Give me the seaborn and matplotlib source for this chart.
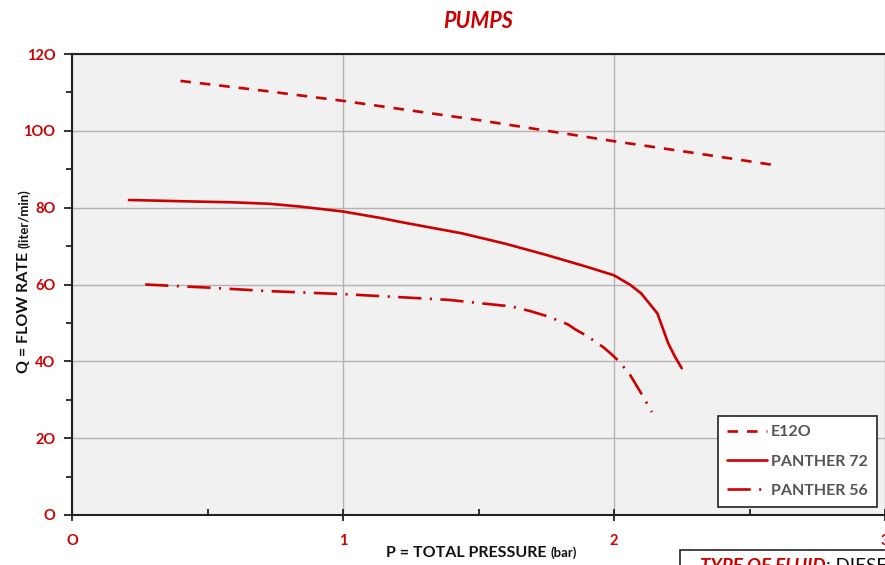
import matplotlib
matplotlib.use("Agg")
import matplotlib.pyplot as plt
import seaborn as sns
import pandas as pd
from matplotlib.patches import Rectangle

# ---- data ----
e120_p = [0.40, 0.70, 1.00, 1.40, 1.50, 2.00, 2.30, 2.59]
e120_q = [113.0, 110.5, 107.8, 103.8, 102.8, 97.3, 94.2, 91.1]

p72_p = [0.21, 0.45, 0.59, 0.73, 0.84, 1.00, 1.14, 1.21, 1.44, 1.60, 1.75, 1.90, 2.00,
         2.06, 2.10, 2.13, 2.16, 2.18, 2.20, 2.225, 2.25]
p72_q = [82.0, 81.6, 81.4, 81.0, 80.3, 79.0, 77.3, 76.3, 73.3, 70.6, 67.7, 64.6, 62.4,
         59.9, 57.7, 55.1, 52.5, 48.6, 44.7, 41.2, 38.2]

p56_p = [0.27, 0.50, 0.72, 1.00, 1.21, 1.39, 1.51, 1.62, 1.69, 1.76, 1.83, 1.86, 1.90,
         1.96, 1.99, 2.02, 2.06, 2.10, 2.14]
p56_q = [60.0, 59.2, 58.3, 57.5, 56.7, 56.0, 55.1, 54.3, 53.1, 51.6, 49.6, 48.2, 46.6,
         43.7, 41.9, 39.9, 36.4, 31.7, 26.8]

series_names = ["E12O", "PANTHER 72", "PANTHER 56"]
x_ticks = [0, 1, 2, 3]
x_ticklabels = ["O", "1", "2", "3"]
y_ticks = [0, 20, 40, 60, 80, 100, 120]
y_ticklabels = ["O", "2O", "4O", "6O", "8O", "1OO", "12O"]

RED = "#cc0000"
FONT = ["Lato", "DejaVu Sans"]

sns.set_theme(style="white")
plt.rcParams["font.family"] = FONT

fig = plt.figure(figsize=(8.85, 5.65), dpi=100)
ax = fig.add_axes([72 / 885, 1 - 515 / 565, 813 / 885, 461 / 565])
ax.set_facecolor("#f1f1f1")

styles = [(0, (4, 3.4)), "-", (0, (8.8, 3.2, 0.8, 3.2))]
datas = [(e120_p, e120_q), (p72_p, p72_q), (p56_p, p56_q)]
for name, (xs, ys), ls in zip(series_names, datas, styles):
    df = pd.DataFrame({"p": xs, "q": ys})
    sns.lineplot(data=df, x="p", y="q", ax=ax, color=RED, linewidth=1.9,
                 linestyle=ls, label=name, legend=False, zorder=3)

ax.set_xlim(0, 3)
ax.set_ylim(0, 120)
ax.set_xticks(x_ticks)
ax.set_xticklabels(x_ticklabels)
ax.set_yticks(y_ticks)
ax.set_yticklabels(y_ticklabels)
ax.set_xticks([0.5, 1.5, 2.5], minor=True)
ax.set_yticks([10, 30, 50, 70, 90, 110], minor=True)
ax.grid(True, which="major", color="#b3b3b3", linewidth=1.0, zorder=0)
ax.set_axisbelow(True)

for lab in ax.get_xticklabels() + ax.get_yticklabels():
    lab.set_color(RED)
    lab.set_fontweight("bold")
    lab.set_fontsize(10.5)

ax.tick_params(axis="x", which="major", direction="inout", length=8, width=1.3, color="#222222", pad=10)
ax.tick_params(axis="x", which="minor", direction="in", length=4, width=1.3, color="#222222")
ax.tick_params(axis="y", which="major", direction="out", length=6, width=1.3, color="#222222", pad=6)
ax.tick_params(axis="y", which="minor", direction="out", length=4, width=1.3, color="#222222")
ax.tick_params(bottom=True, left=True, which="both")

for s in ["left", "bottom", "top"]:
    ax.spines[s].set_visible(True)
    ax.spines[s].set_color("#222222")
    ax.spines[s].set_linewidth(1.5)
ax.spines["right"].set_visible(False)

ax.set_xlabel("")
ax.set_ylabel("")

leg = ax.legend(loc="lower right", bbox_to_anchor=(0.990, 0.0174), borderaxespad=0,
                frameon=True, fancybox=False, handlelength=2.5, handletextpad=0.25,
                borderpad=0.56, labelspacing=0.95, fontsize=11.5)
leg.get_frame().set_edgecolor("#222222")
leg.get_frame().set_linewidth(1.2)
leg.get_frame().set_facecolor("white")
leg.get_frame().set_alpha(1)
for t in leg.get_texts():
    t.set_color("#555555")
    t.set_fontweight("bold")

# title
fig.text(478 / 885, 1 - 22 / 565, "PUMPS", color=RED, fontsize=15.5, fontweight="bold",
         fontstyle="italic", ha="center", va="center")

fig.canvas.draw()
renderer = fig.canvas.get_renderer()

# x label with smaller unit
t1 = fig.text(386 / 885, 1 - 557 / 565, "P = TOTAL PRESSURE ", fontsize=11.5,
              fontweight="bold", color="#111111", ha="left", va="baseline")
bb = t1.get_window_extent(renderer)
fig.text(bb.x1 / fig.bbox.width, 1 - 557 / 565, "(bar)", fontsize=9.5,
         fontweight="bold", color="#111111", ha="left", va="baseline")

# y label with smaller unit (rotated)
t2 = fig.text(24 / 885, 1 - 373 / 565, "Q = FLOW RATE ", fontsize=11.5, rotation=90,
              fontweight="bold", color="#111111", ha="center", va="bottom")
bb2 = t2.get_window_extent(renderer)
fig.text(bb2.x0 / fig.bbox.width + 0.001, bb2.y1 / fig.bbox.height, "(liter/min)", fontsize=9.5,
         rotation=90, fontweight="bold", color="#111111", ha="left", va="bottom")

# fluid box (partially cut off)
fig.patches.append(Rectangle((680 / 885, -0.05), 0.3, 0.05 + (565 - 550) / 565,
                             transform=fig.transFigure, facecolor="white",
                             edgecolor="#222222", linewidth=1.2))
t3 = fig.text(700 / 885, 1 - 572 / 565, "TYPE OF FLUID", color=RED, fontsize=13.5,
              fontweight="bold", fontstyle="italic", ha="left", va="baseline")
bb3 = t3.get_window_extent(renderer)
fig.text(bb3.x1 / fig.bbox.width, 1 - 572 / 565, ": DIESEL", color="#111111", fontsize=13.5,
         ha="left", va="baseline")

fig.savefig("out.png", dpi=100)
